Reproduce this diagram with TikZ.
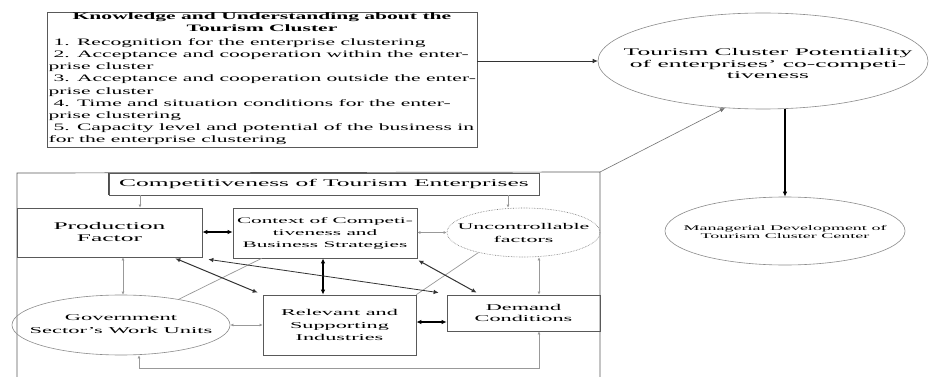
\documentclass[tikz,border=0pt]{standalone}
\usepackage{fontspec}
\setmainfont{Liberation Serif}
\newfontfamily\wfa[FakeStretch=2.2]{Liberation Serif}
\newfontfamily\wfb[FakeStretch=2.5]{Liberation Serif}
\usetikzlibrary{shapes.geometric,arrows.meta,calc}
\begin{document}
\begin{tikzpicture}[x=1pt,y=-1pt,
  >={Latex[length=5pt,width=4.5pt]},
  rbox/.style={draw=black!65, line width=0.7pt, inner sep=0pt, align=center},
  ell/.style={ellipse, draw=black!45, line width=0.6pt, inner sep=0pt},
  blk/.style={draw=black, line width=1.3pt},
  thinblk/.style={draw=black!80, line width=0.6pt},
  gl/.style={draw=black!40, line width=0.7pt, >={Latex[length=3pt,width=3pt]}},
  txt/.style={inner sep=0pt, align=center}]
\fill[white] (0,0) rectangle (929,377);
\useasboundingbox (0,0) rectangle (929,377);

% helper coordinates for connector positions
\coordinate (xa) at (140,0);
\coordinate (xb) at (508,0);
\coordinate (xc) at (123,0);
\coordinate (xd) at (539,0);
\coordinate (xe) at (139,0);
\coordinate (xf) at (323,0);
\coordinate (ya) at (0,232);
\coordinate (yb) at (0,322);
\coordinate (yc) at (0,325);
\coordinate (ybot) at (0,368);

% top box
\node[rbox, minimum width=430pt, minimum height=135pt] (top) at (262,80) {};
\node[txt, font=\wfa\bfseries\fontsize{9.8}{12.1}\selectfont] (toptitle) at (262,22.5)
  {Knowledge and Understanding about the\\Tourism Cluster};
\node[inner sep=0pt, anchor=north west, align=left, font=\wfa\fontsize{9.8}{12.1}\selectfont] (topbody) at (48.5,38.5)
  {\hspace*{5pt}1. Recognition for the enterprise clustering\\
   \hspace*{5pt}2. Acceptance and cooperation within the enter-\\
   prise cluster\\
   \hspace*{5pt}3. Acceptance and cooperation outside the enter-\\
   prise cluster\\
   \hspace*{5pt}4. Time and situation conditions for the enter-\\
   prise clustering\\
   \hspace*{5pt}5. Capacity level and potential of the business in\\
   for the enterprise clustering};

% right ellipses
\node[ell, minimum width=330pt, minimum height=96pt] (pot) at (763,61) {};
\node[txt, font=\wfb\fontsize{10.2}{11.5}\selectfont] (pottext) at (768,64)
  {Tourism Cluster Potentiality\\of enterprises’ co-competi-\\tiveness};
\node[ell, minimum width=240pt, minimum height=68pt] (mgr) at (785,231) {};
\node[txt, font=\wfb\fontsize{7.2}{8.2}\selectfont] (mgrtext) at (785,232)
  {Managerial Development of\\Tourism Cluster Center};

% outer frame
\coordinate (obl) at (17,377);
\coordinate (otl) at (17,173);
\coordinate (oc) at (600,172);
\coordinate (obr) at (600,377);
\draw[draw=black!65, line width=0.7pt] (obl) -- (otl) -- (oc) -- (obr);

% inner nodes
\node[rbox, minimum width=430pt, minimum height=22pt, font=\wfb\fontsize{10.2}{12}\selectfont] (comp) at (324,184)
  {Competitiveness of Tourism Enterprises};
\draw[draw=black!70, line width=1.4pt] (comp.north west) -- (comp.south west);
\node[rbox, minimum width=185pt, minimum height=49pt, font=\wfb\fontsize{10.2}{12}\selectfont] (prod) at (109.5,232.5)
  {Production\\Factor};
\node[rbox, minimum width=184pt, minimum height=50pt, font=\wfb\fontsize{8.5}{12}\selectfont] (ctx) at (325,233)
  {Context of Competi-\\tiveness and\\Business Strategies};
\node[ell, densely dotted, draw=black!55, minimum width=153pt, minimum height=49pt] (unc) at (523.5,232.5) {};
\node[txt, font=\wfb\fontsize{8.8}{13}\selectfont] at (unc) {Uncontrollable\\factors};
\node[ell, minimum width=218pt, minimum height=60pt] (gov) at (121,325) {};
\node[txt, font=\wfb\fontsize{9}{13}\selectfont] at ($(gov)+(0,-1)$) {Government\\Sector’s Work Units};
\node[rbox, minimum width=153pt, minimum height=60pt, font=\wfb\fontsize{8.9}{12.3}\selectfont] (rel) at (339.5,325)
  {Relevant and\\Supporting\\Industries};
\node[rbox, minimum width=153pt, minimum height=36pt, font=\wfb\fontsize{8.9}{11}\selectfont] (dem) at (523.5,313)
  {Demand\\Conditions};

% right-hand connectors
\draw[thinblk, ->] (top.east |- pot.west) -- (pot.west);
\draw[blk, ->] (mgr.north |- pot.south) -- (mgr.north);
\draw[thinblk, draw=black!55, ->] (oc) -- (pot.231);

% gray connectors
\draw[gl, ->] (comp.south -| xa) -- (prod.north -| xa);
\draw[gl, ->] (comp.south -| xb) -- (unc.north -| xb);
\draw[gl, <->] (prod.south -| xc) -- (gov.north -| xc);
\draw[gl, <->] (unc.south -| xd) -- (dem.north -| xd);
\draw[gl, <->] (unc.west) -- (ctx.east |- unc.west);
\draw[gl, <->] (rel.west |- yc) -- (gov.east);
\draw[gl, <->] (gov.south -| xe) -- (xe |- ybot) -- (xd |- ybot) -- (dem.south -| xd);
\draw[gl] ($(ctx.south west)+(29,0)$) -- (gov.24);
\draw[gl] (unc.204) -- (rel.north east);

% black double arrows
\draw[blk, <->] (prod.east |- ya) -- (ctx.west |- ya);
\draw[blk, <->] (ctx.south -| xf) -- (rel.north -| xf);
\draw[blk, <->] (rel.east |- yb) -- (dem.west |- yb);
\draw[thinblk, line width=1pt, <->] ($(prod.south east)+(-27,1)$) -- ($(rel.north west)+(-5,-2)$);
\draw[thinblk, line width=0.8pt, <->] ($(prod.south east)+(6,2)$) -- ($(dem.north west)+(-8,-2)$);
\draw[thinblk, line width=1pt, <->] ($(ctx.south east)+(1,2)$) -- ($(dem.north west)+(30,-2)$);
\end{tikzpicture}
\end{document}
